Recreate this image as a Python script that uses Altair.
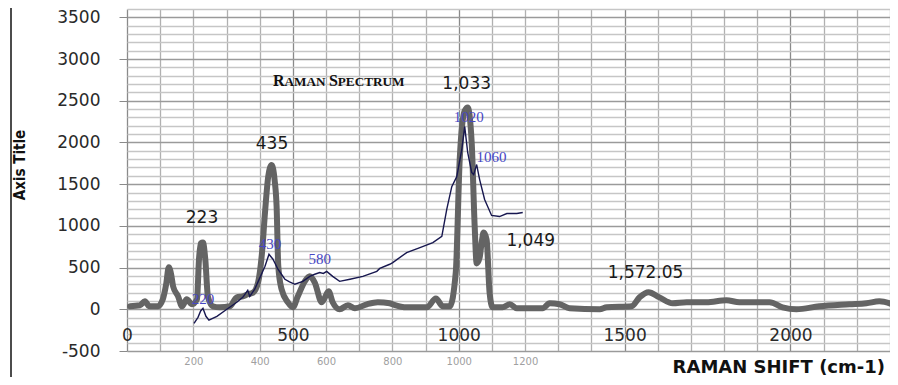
import altair as alt
import pandas as pd

# ---- data ----
gray_x = [9, 39, 54, 66, 75, 93, 108, 118, 126, 133, 139, 154, 166, 180, 196, 211, 217, 222, 229, 236, 244,
          259, 280, 310, 331, 349, 364, 380, 395, 407, 416, 426, 436, 445, 451, 456, 466, 485, 500, 515,
          536, 551, 566, 587, 608, 620, 641, 666, 687, 723, 756, 792, 801, 843, 904, 931, 952, 973, 991,
          1003, 1018, 1027, 1039, 1048, 1054, 1063, 1069, 1075, 1084, 1093, 1102, 1132, 1154, 1175, 1214,
          1253, 1274, 1304, 1334, 1425, 1446, 1521, 1545, 1572, 1605, 1645, 1687, 1747, 1807, 1846, 1937,
          1976, 2018, 2087, 2178, 2229, 2268, 2322]
gray_y = [36, 48, 96, 40, 36, 36, 120, 300, 505, 420, 275, 155, 36, 120, 60, 120, 600, 790, 800, 600, 150,
          36, 24, 36, 143, 155, 180, 200, 320, 680, 1160, 1600, 1730, 1550, 1230, 520, 240, 84, 24, 155,
          335, 395, 320, 84, 215, 84, 0, 48, 12, 60, 84, 72, 60, 24, 24, 130, 36, 36, 440,
          1800, 2380, 2420, 2000, 1000, 550, 620, 800, 920, 835, 200, 24, 24, 60, 12, 12,
          12, 72, 60, 12, 0, 24, 36, 143, 205, 143, 72, 84, 84, 108, 84, 84,
          24, 0, 36, 60, 72, 96, 36]

navy_x = [202, 214, 222, 229, 238, 247, 271, 301, 331, 349, 364, 370, 385, 401, 416, 428, 440, 455, 476,
          490, 506, 530, 551, 566, 581, 592, 602, 620, 641, 672, 711, 753, 762, 792, 801, 843, 883, 922,
          949, 964, 979, 994, 1009, 1018, 1027, 1039, 1045, 1054, 1063, 1078, 1099, 1123, 1145, 1175, 1193]
navy_y = [-168, -96, -20, 12, -84, -130, -84, 0, 84, 143, 227, 155, 240, 383, 515, 660, 600, 480, 360,
          330, 300, 335, 395, 420, 440, 430, 455, 395, 335, 360, 395, 455, 490, 540, 560, 680, 740, 800,
          875, 1200, 1470, 1590, 1910, 2190, 1880, 1640, 1615, 1735, 1555, 1316, 1125, 1112, 1148, 1148, 1160]

black_labels = ["1,033", "435", "223", "1,049", "1,572.05"]
black_x = [1024, 437, 226, 1217, 1563]
black_y = [2703, 1985, 1100, 813, 430]

blue_labels = ["220", "430", "580", "1020", "1060"]
blue_x = [229, 431, 581, 1030, 1099]
blue_y = [120, 778, 598, 2309, 1830]

x_grid_ticks = list(range(0, 2301, 100))
y_grid_ticks = list(range(-500, 3601, 100))
secondary_ticks = [200, 400, 600, 800, 1000, 1200]

X_DOMAIN = [0, 2300]
Y_DOMAIN = [-500, 3600]

gray_df = pd.DataFrame({"x": gray_x, "y": gray_y})
navy_df = pd.DataFrame({"x": navy_x, "y": navy_y})
black_df = pd.DataFrame({"x": black_x, "y": black_y, "t": black_labels})
blue_df = pd.DataFrame({"x": blue_x, "y": blue_y, "t": blue_labels})
one_row = pd.DataFrame({"k": [0]})

xs = alt.Scale(domain=X_DOMAIN, nice=False, zero=False)
ys = alt.Scale(domain=Y_DOMAIN, nice=False, zero=False)

major = "datum.value % 500 === 0"

x_axis_main = alt.Axis(
    values=x_grid_ticks, tickCount=500, orient="bottom", title=None, grid=True,
    gridColor={"condition": {"test": major, "value": "#8a8a8a"}, "value": "#b0b0b0"},
    gridWidth=1.3, ticks=False, domain=False,
    labelExpr=major + " ? '' + datum.value : ''",
    labelFont="DejaVu Sans", labelFontSize=17, labelColor="#2a2a2a",
    labelPadding=2, offset=-26, labelFlush=False, labelOverlap=False,
)
x_axis_sec = alt.Axis(
    values=secondary_ticks, tickCount=500, orient="bottom", title=None, grid=False, ticks=False,
    domain=False, format="d", labelFont="DejaVu Sans", labelFontSize=10, labelColor="#a0a0a0",
    labelPadding=5, labelFlush=False, labelOverlap=False,
)
y_axis = alt.Axis(
    values=y_grid_ticks, tickCount=500, title=None, grid=True,
    gridColor={"condition": {"test": major, "value": "#9a9a9a"}, "value": "#c6c6c6"},
    gridWidth=1.3, domain=False, tickSize=8,
    tickColor={"condition": {"test": major, "value": "#8a8a8a"}, "value": "transparent"},
    labelExpr=major + " ? '' + datum.value : ''",
    labelFont="DejaVu Sans", labelFontSize=17, labelColor="#2a2a2a",
    labelPadding=19, labelOverlap=False,
)

gray = alt.Chart(gray_df).mark_line(
    color="#646464", strokeWidth=6, interpolate="monotone", clip=True,
    strokeJoin="round", strokeCap="round",
).encode(x=alt.X("x:Q", scale=xs, axis=x_axis_main), y=alt.Y("y:Q", scale=ys, axis=y_axis))

navy = alt.Chart(navy_df).mark_line(color="#17174f", strokeWidth=1.4).encode(
    x=alt.X("x:Q", scale=xs, axis=x_axis_sec), y=alt.Y("y:Q", scale=ys, title=None))

black_txt = alt.Chart(black_df).mark_text(
    font="DejaVu Sans", fontSize=17, color="#1a1a1a", align="center", baseline="middle"
).encode(x=alt.X("x:Q", scale=xs, axis=None), y=alt.Y("y:Q", scale=ys, title=None), text="t:N")

blue_txt = alt.Chart(blue_df).mark_text(
    font="Liberation Serif", fontSize=15, color="#4646c4", align="center", baseline="middle"
).encode(x=alt.X("x:Q", scale=xs, axis=None), y=alt.Y("y:Q", scale=ys, title=None), text="t:N")

# small-caps style inner title
tfont = "Liberation Serif"
def piece(txt, size, xpos):
    return alt.Chart(one_row).mark_text(
        text=txt, font=tfont, fontSize=size, fontWeight="bold", color="#111",
        align="left", baseline="alphabetic"
    ).encode(x=alt.value(xpos), y=alt.value(77))

title_parts = [piece("R", 16, 146), piece("AMAN", 13.2, 157.6),
               piece("S", 16, 201.9), piece("PECTRUM", 13.2, 210.8)]

x_title = alt.Chart(one_row).mark_text(
    text="RAMAN SHIFT (cm-1)", font="DejaVu Sans", fontSize=18, fontWeight="bold",
    color="#111", align="right", baseline="alphabetic"
).encode(x=alt.value(758), y=alt.value(364))

y_title = alt.Chart(one_row).mark_text(
    text="Axis Title", font="Liberation Sans Narrow, DejaVu Sans Condensed, sans-serif",
    fontSize=15, fontWeight="bold", color="#111", angle=270,
    align="center", baseline="middle"
).encode(x=alt.value(-107), y=alt.value(156))

frame_left = alt.Chart(one_row).mark_rule(color="#111", strokeWidth=1.5).encode(
    x=alt.value(-116), y=alt.value(-2), y2=alt.value(380))
frame_top = alt.Chart(one_row).mark_rule(color="#111", strokeWidth=1.5).encode(
    x=alt.value(-116), x2=alt.value(780), y=alt.value(-2))

chart = alt.layer(
    gray, navy, black_txt, blue_txt, *title_parts, x_title, y_title, frame_left, frame_top
).resolve_axis(x="independent").properties(
    width=763, height=342,
    padding={"left": 119, "top": 1, "right": 0, "bottom": 26},
    autosize=alt.AutoSizeParams(type="none"),
    background="white",
).configure_view(stroke=None)

chart.save("out.html", embed_options={"renderer": "svg", "actions": False})
